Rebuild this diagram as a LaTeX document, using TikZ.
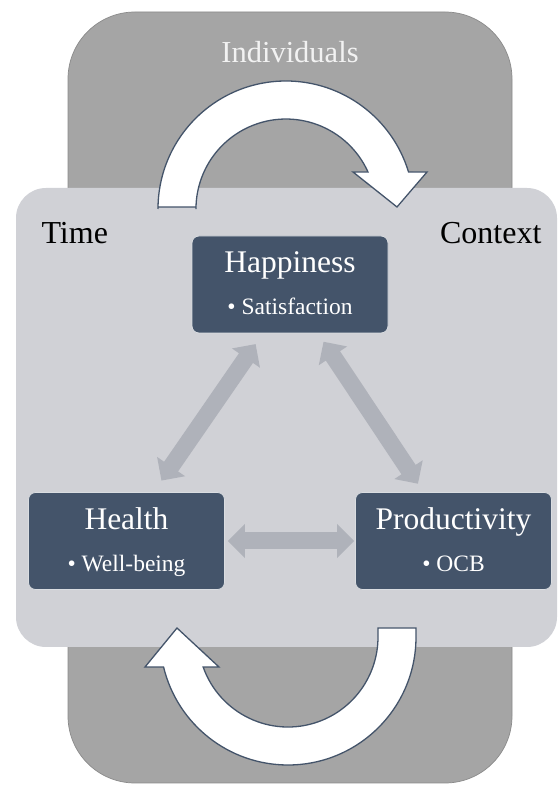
\documentclass[tikz,border=0pt]{standalone}
\usepackage{fontspec}
\setmainfont{Liberation Serif}
\usepackage{tikz}
\usetikzlibrary{arrows.meta}
\usetikzlibrary{positioning,calc}
\definecolor{panelgray}{RGB}{165,165,165}
\definecolor{paneledge}{RGB}{138,138,138}
\definecolor{softpanel}{RGB}{208,209,214}
\definecolor{slateblue}{RGB}{68,84,106}
\definecolor{linkgray}{RGB}{175,178,186}

\newcommand\subpoint[1]{{\fontsize{23.5}{42}\selectfont\textbullet\ #1}}

\tikzset{
  topic/.style={fill=slateblue,draw=white!80!slateblue,line width=0.8pt,
    rounded corners=7pt,minimum width=196pt,inner sep=0pt,text=white,
    align=center,text height=79pt,text depth=18pt,
    font=\fontsize{31.5}{42}\selectfont},
  link/.style={linkgray,line width=17pt,
    {Triangle[length=17pt,width=33pt]}-{Triangle[length=17pt,width=33pt]}},
  turn/.style={fill=white,draw=slateblue,line width=1.3pt,line join=miter},
}

\begin{document}
\begin{tikzpicture}[x=1pt,y=1pt]
  \useasboundingbox (0,0) rectangle (558,785);
  % panels
  \draw[fill=panelgray,draw=paneledge,line width=0.7pt,rounded corners=67pt]
    (68,2) rectangle (512,773);
  \fill[softpanel,rounded corners=30pt] (16,138) rectangle (557,597);
  \node[anchor=base,text=white!95!black,font=\fontsize{30.5}{36}\selectfont]
    (indiv) at (290,722) {Individuals};
  \node[anchor=base west,font=\fontsize{32}{38}\selectfont] (time) at (38,541) {Time};
  \node[anchor=base east,font=\fontsize{32}{38}\selectfont] (context) at (545,541) {Context};

  % curved arrows, upper one centred at (286,576), lower one at (288,148)
  \draw[turn] (158,578) -- (158,576) arc[start angle=180,end angle=16.8,radius=128]
    -- (427,613) -- (397,578) -- (353,613) -- (368,613)
    arc[start angle=24.3,end angle=180,radius=90] -- (196,578) -- cycle;
  \draw[turn] (416,157) -- (416,148) arc[start angle=0,end angle=-166.45,radius=128]
    -- (145,118) -- (177,157) -- (219,118) -- (203.15,118)
    arc[start angle=-160.53,end angle=0,radius=90] -- (378,157) -- cycle;

  % the three topics
  \node[topic] (happy) at (290,500.5) {Happiness\\\subpoint{Satisfaction}};
  \node[topic] (health) at (126.5,244) {Health\\\subpoint{Well-being}};
  \node[topic] (prod) at (453.5,244) {Productivity\\\subpoint{OCB}};

  \draw[link,shorten <=13pt,shorten >=14pt] ([xshift=-27pt]happy.south) -- ([xshift=27pt]health.north);
  \draw[link,shorten <=10pt,shorten >=10pt] ([xshift=28pt]happy.south) -- ([xshift=-30pt]prod.north);
  \draw[link,shorten <=3pt,shorten >=1pt] (health.east) -- (prod.west);
\end{tikzpicture}
\end{document}
